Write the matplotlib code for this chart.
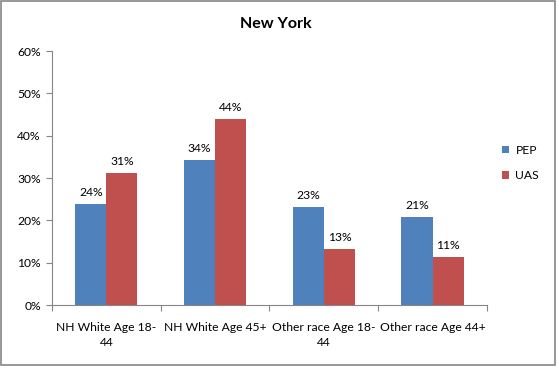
import numpy as np
import matplotlib.pyplot as plt
from matplotlib.patches import Rectangle

# values (percent)
categories = ["NH White Age 18-\n44", "NH White Age 45+", "Other race Age 18-\n44", "Other race Age 44+"]
pep = [23.9, 34.3, 23.2, 20.8]
uas = [31.2, 43.9, 13.3, 11.4]
pep_labels = ["24%", "34%", "23%", "21%"]
uas_labels = ["31%", "44%", "13%", "11%"]

plt.rcParams["font.family"] = ["Lato", "DejaVu Sans"]

fig = plt.figure(figsize=(5.59, 3.68), dpi=100)
ax = fig.add_axes([0.093, 0.171, 0.778, 0.69])

x = np.arange(len(categories))
w = 1 / 3.5  # excel gap width 150%
b1 = ax.bar(x - w / 2, pep, w, color="#4F81BD", label="PEP")
b2 = ax.bar(x + w / 2, uas, w, color="#C0504D", label="UAS")

for bars, labs in ((b1, pep_labels), (b2, uas_labels)):
    for bar, lab in zip(bars, labs):
        ax.text(bar.get_x() + bar.get_width() / 2, bar.get_height() + 1.4, lab,
                ha="center", va="bottom", fontsize=8.7)

ax.set_xlim(-0.5, len(categories) - 0.5)
ax.set_ylim(0, 60)
ax.set_yticks(range(0, 61, 10))
ax.set_yticklabels([f"{v}%" for v in range(0, 61, 10)], fontsize=8.7)
ax.set_xticks(np.arange(-0.5, len(categories), 1))
ax.set_xticklabels([])
ax.set_xticks(x, minor=True)
ax.set_xticklabels(categories, minor=True, fontsize=8.7, linespacing=1.5)
ax.tick_params(axis="x", which="minor", length=0, pad=12)
ax.tick_params(axis="x", which="major", length=4, direction="out", color="#868686")
ax.tick_params(axis="y", length=4, direction="out", color="#868686", pad=4)
for s in ("top", "right"):
    ax.spines[s].set_visible(False)
for s in ("left", "bottom"):
    ax.spines[s].set_color("#868686")

fig.text(0.494, 0.935, "New York", ha="center", va="center", fontsize=11.5, fontweight="bold")

ax.legend(loc="center left", bbox_to_anchor=(1.01, 0.56), frameon=False, fontsize=8.7,
          handlelength=0.6, handleheight=0.6, handletextpad=0.5, labelspacing=1.2)

# chart border
fig.patches.append(Rectangle((0.002, 0.008), 0.991, 0.988, transform=fig.transFigure,
                             fill=False, edgecolor="#868686", linewidth=1.2))

plt.savefig("out.png", dpi=100)
